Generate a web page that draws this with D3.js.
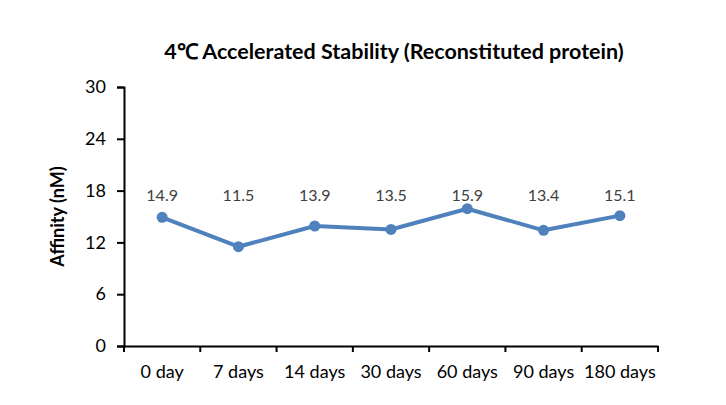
<!DOCTYPE html>
<html>
<head>
<meta charset="utf-8">
<script src="https://cdn.jsdelivr.net/npm/d3@7"></script>
<style>
  html, body { margin: 0; padding: 0; background: #fff; }
  svg { display: block; }
  text { font-family: Lato, "Open Sans", sans-serif; }
</style>
</head>
<body>
<div id="chart"></div>
<script>
const categories = ["0 day", "7 days", "14 days", "30 days", "60 days", "90 days", "180 days"];
const affinity = [14.9, 11.5, 13.9, 13.5, 15.9, 13.4, 15.1];
const yTicks = [0, 6, 12, 18, 24, 30];
const labelLevel = 17.3;
const title = "4℃ Accelerated Stability (Reconstituted protein)";
const yTitle = "Affinity (nM)";

const W = 726, H = 405;
const margin = { left: 124, right: 68, top: 87, bottom: 59 };

const svg = d3.select("#chart").append("svg")
  .attr("width", W).attr("height", H);

const x = d3.scaleBand().domain(categories)
  .range([margin.left, W - margin.right]).padding(0);
const y = d3.scaleLinear().domain([0, 30])
  .range([H - margin.bottom, margin.top]);

// axes
const xAxis = svg.append("g")
  .attr("transform", `translate(0,${H - margin.bottom})`)
  .call(d3.axisBottom(x).tickSize(0).tickPadding(19));
xAxis.select(".domain").attr("stroke", "#000").attr("stroke-width", 2);
xAxis.selectAll("text").attr("font-size", 18).attr("fill", "#000")
  .style("font-family", "Lato, sans-serif");
// boundary ticks between categories
const bounds = categories.map(c => x(c)).concat([x.range()[1]]);
svg.append("g").selectAll("line").data(bounds).join("line")
  .attr("x1", d => d).attr("x2", d => d)
  .attr("y1", H - margin.bottom).attr("y2", H - margin.bottom + 6)
  .attr("stroke", "#000").attr("stroke-width", 2);

const yAxis = svg.append("g")
  .attr("transform", `translate(${margin.left},0)`)
  .call(d3.axisLeft(y).tickValues(yTicks).tickSize(7).tickPadding(11));
yAxis.select(".domain").attr("stroke", "#000").attr("stroke-width", 2);
yAxis.selectAll(".tick line").attr("stroke", "#000").attr("stroke-width", 2);
yAxis.selectAll("text").attr("font-size", 18).attr("fill", "#000")
  .style("font-family", "Lato, sans-serif");

// line
const cx = d => x(d) + x.bandwidth() / 2;
const line = d3.line().x((d, i) => cx(categories[i])).y(d => y(d));
svg.append("path").datum(affinity)
  .attr("d", line).attr("fill", "none")
  .attr("stroke", "#4F81BD").attr("stroke-width", 4)
  .attr("stroke-linejoin", "round");
svg.append("g").selectAll("circle").data(affinity).join("circle")
  .attr("cx", (d, i) => cx(categories[i])).attr("cy", d => y(d))
  .attr("r", 5.5).attr("fill", "#4F81BD");

// data labels
svg.append("g").selectAll("text").data(affinity).join("text")
  .attr("x", (d, i) => cx(categories[i]))
  .attr("y", y(labelLevel))
  .attr("text-anchor", "middle").attr("dominant-baseline", "middle")
  .attr("font-size", 16).attr("fill", "#404040")
  .text(d => d.toFixed(1));

// title
svg.append("text")
  .attr("x", 394).attr("y", 59)
  .attr("text-anchor", "middle")
  .attr("font-size", 21.5).attr("font-weight", "bold").attr("fill", "#000")
  .text(title);

// y title
svg.append("text")
  .attr("transform", `translate(64,${(y(0) + y(30)) / 2}) rotate(-90)`)
  .attr("text-anchor", "middle")
  .attr("font-size", 18).attr("font-weight", "bold").attr("fill", "#000")
  .text(yTitle);
</script>
</body>
</html>
